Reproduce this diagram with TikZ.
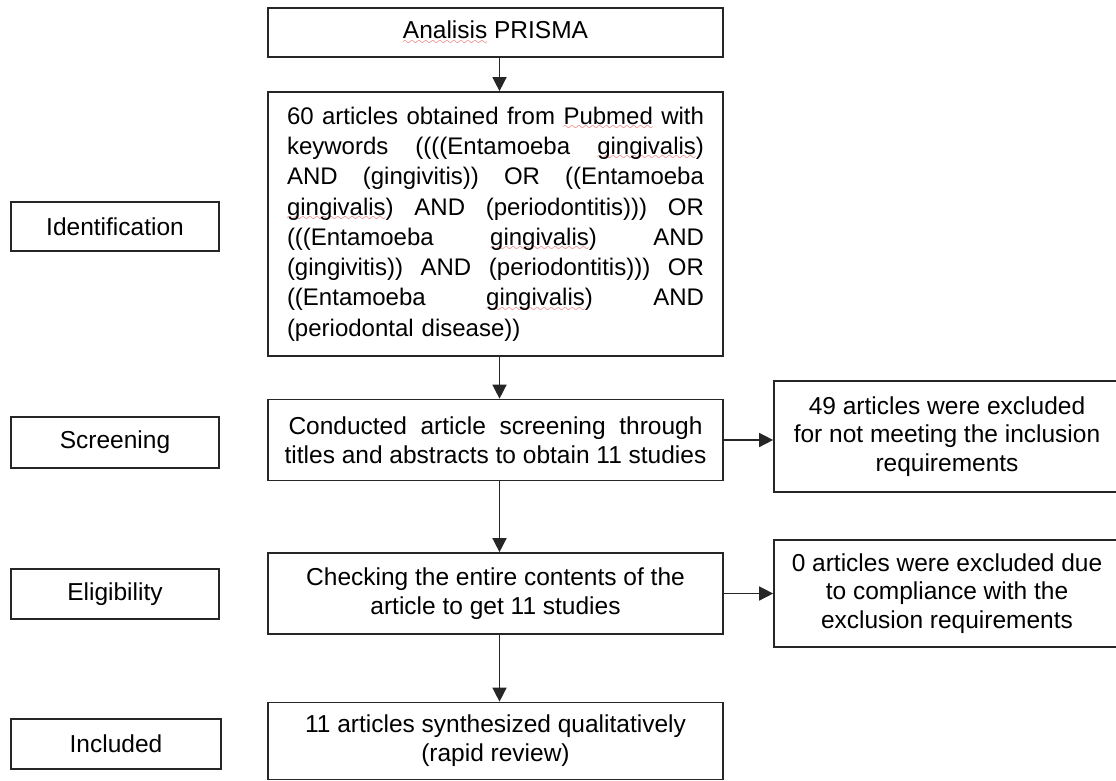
\documentclass[tikz,border=0pt]{standalone}
\usepackage{fontspec}
\setmainfont{Liberation Sans}
\usetikzlibrary{arrows.meta}
\definecolor{lc}{HTML}{262626}
\definecolor{sq}{HTML}{E02424}
\font\wavefnt=lasy10 at 10pt
\newcommand\spl[1]{\setbox0\hbox{#1}\rlap{\textcolor{sq}{\lower5.5pt\hbox to \wd0{\xleaders\hbox{\wavefnt\char58}\hfil}}}\box0\relax}
\newcommand\jl[1]{\leavevmode\hbox to 417pt{\spaceskip=0.278em plus 10em\relax #1}}
\begin{document}
\begin{tikzpicture}[x=1pt,y=-1pt,
  box/.style={draw=lc,line width=1.7pt,inner sep=0pt,align=center,
    font=\fontsize{24.5}{28.7}\selectfont},
  arr/.style={draw=lc,line width=1.5pt,-{Triangle[length=14pt,width=14pt]}}]
\useasboundingbox (0,0) rectangle (1116,780);
% left stage labels
\node[box,minimum width=208pt,minimum height=49pt] (id) at (115,226.5) {Identification};
\node[box,minimum width=208pt,minimum height=51pt] (scr) at (115,442.5) {Screening};
\node[box,minimum width=208pt,minimum height=50pt] (eli) at (115,594) {Eligibility};
\node[box,minimum width=210pt,minimum height=50pt] (inc) at (116,744) {Included};
% main column
\node[box,minimum width=455pt,minimum height=49pt] (prisma) at (495.5,32.5) {\spl{Analisis} PRISMA};
\node[box,minimum width=455pt,minimum height=264pt,align=left,text width=417pt,
  font=\fontsize{24}{30.3}\selectfont] (search) at (495.5,224) {%
\jl{60 articles obtained from \spl{Pubmed} with}\\
\jl{keywords ((((Entamoeba \spl{gingivalis})}\\
\jl{AND (gingivitis)) OR ((Entamoeba}\\
\jl{\spl{gingivalis}) AND (periodontitis))) OR}\\
\jl{(((Entamoeba \spl{gingivalis}) AND}\\
\jl{(gingivitis)) AND (periodontitis))) OR}\\
\jl{((Entamoeba \spl{gingivalis}) AND}\\
(periodontal disease))};
\node[box,minimum width=455pt,minimum height=81pt] (screen) at (495.5,440)
  {\makebox[414pt][s]{Conducted article screening through}\\titles and abstracts to obtain 11 studies};
\node[box,minimum width=455pt,minimum height=81pt] (elig) at (495.5,593.5)
  {Checking the entire contents of the\\article to get 11 studies};
\node[box,minimum width=455pt,minimum height=77pt] (incl) at (495.5,741)
  {11 articles synthesized qualitatively\\(rapid review)};
% right exclusion boxes
\node[box,minimum width=346pt,minimum height=111pt] (ex1) at (947,436.5)
  {49 articles were excluded\\for not meeting the inclusion\\requirements};
\node[box,minimum width=346pt,minimum height=107pt] (ex2) at (947,593.5)
  {0 articles were excluded due\\to compliance with the\\exclusion requirements};
% connectors
\draw[arr] ([xshift=4pt]prisma.south) -- ([xshift=4pt]search.north);
\draw[arr] ([xshift=4pt]search.south) -- ([xshift=4pt]screen.north);
\draw[arr] ([xshift=4pt]screen.south) -- ([xshift=4pt]elig.north);
\draw[arr] ([xshift=4pt]elig.south) -- ([xshift=4pt]incl.north);
\draw[arr] (screen.east) -- (screen.east -| ex1.west);
\draw[arr] (elig.east) -- (elig.east -| ex2.west);
\end{tikzpicture}
\end{document}
